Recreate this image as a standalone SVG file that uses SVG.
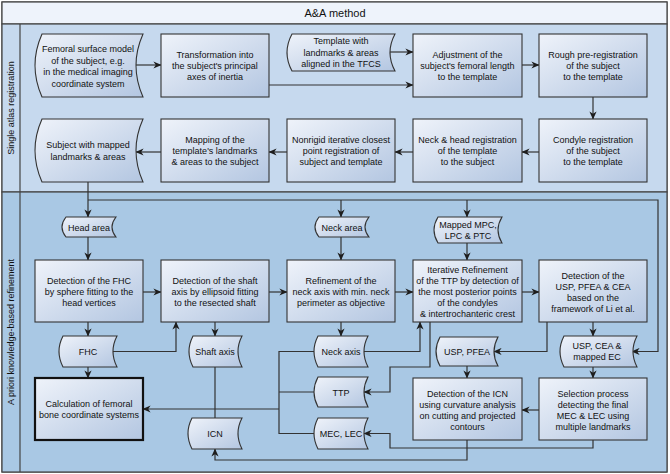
<svg xmlns="http://www.w3.org/2000/svg" width="670" height="474" viewBox="0 0 670 474">
<defs>
<linearGradient id="g" x1="0" y1="0" x2="1" y2="1">
<stop offset="0" stop-color="#eff3fa"/>
<stop offset="1" stop-color="#b3c6e1"/>
</linearGradient>
<marker id="arr" viewBox="0 0 10 10" refX="9.5" refY="5" markerWidth="8" markerHeight="8" markerUnits="userSpaceOnUse" orient="auto">
<path d="M0,0.5 L10,5 L0,9.5 L3,5 Z" fill="#1e1e1e"/>
</marker>
<style>
.n{fill:url(#g);stroke:#333;stroke-width:1.1}
.b{stroke-width:2.2;stroke:#111}
.t{font-family:"Liberation Sans",Arial,sans-serif;font-size:9px;fill:#111;text-anchor:middle}
.c{fill:none;stroke:#333;stroke-width:1.2}
.a{marker-end:url(#arr)}
.lane{font-family:"Liberation Sans",Arial,sans-serif;font-size:9px;fill:#111;text-anchor:middle}
</style>
</defs>
<g id="frame">
<rect x="2" y="2" width="665" height="470" fill="#c6d9ee" stroke="#444" stroke-width="1.2"/>
<rect x="2" y="2" width="665" height="22" fill="#eef3fb" stroke="#444" stroke-width="1.2"/>
<text x="335" y="17" style="font-family:'Liberation Sans',Arial,sans-serif;font-size:11px;fill:#111;text-anchor:middle">A&amp;A method</text>
<rect x="2" y="24" width="665" height="168" fill="#c6d9ee" stroke="#444" stroke-width="1.2"/>
<rect x="2" y="192" width="665" height="280" fill="#a9c8e4" stroke="#444" stroke-width="1.2"/>
<line x1="20" y1="24" x2="20" y2="472" stroke="#444" stroke-width="1.2"/>
<text class="lane" transform="translate(14,108) rotate(-90)">Single atlas registration</text>
<text class="lane" transform="translate(14,332) rotate(-90)">A priori knowledge-based refinement</text>
</g>
<g id="connectors">
<path class="c a" d="M136,65 H161"/>
<path class="c a" d="M269,85 H413"/>
<path class="c a" d="M390,52 H413"/>
<path class="c a" d="M522,65 H539"/>
<path class="c a" d="M593,97 V119"/>
<path class="c a" d="M539,152 H522"/>
<path class="c a" d="M413,152 H395"/>
<path class="c a" d="M287,152 H269"/>
<path class="c a" d="M161,152 H136"/>
<path class="c a" d="M88,182 V217"/>
<path class="c a" d="M88,200 H658 V351.5 H632"/>
<path class="c a" d="M341,200 V217"/>
<path class="c a" d="M467,200 V217"/>
<path class="c a" d="M88,237 V260"/>
<path class="c a" d="M341,237 V260"/>
<path class="c a" d="M467,243 V260"/>
<path class="c a" d="M143,292 H161"/>
<path class="c a" d="M269,292 H287"/>
<path class="c a" d="M395,292 H413"/>
<path class="c a" d="M522,292 H539"/>
<path class="c a" d="M88,322 V336"/>
<path class="c a" d="M88,367 V378"/>
<path class="c a" d="M113,351.5 H176 V322"/>
<path class="c a" d="M215,322 V336"/>
<path class="c" d="M215,367 V418"/>
<path class="c" d="M314,351.5 H279 V433.5 H314 M279,392 H314"/>
<path class="c a" d="M279,409 H143"/>
<path class="c a" d="M341,322 V336"/>
<path class="c a" d="M364,351.5 H420 V322"/>
<path class="c a" d="M430,322 V367 H390 V392 H364"/>
<path class="c a" d="M547,322 V351.5 H494"/>
<path class="c a" d="M593,322 V336"/>
<path class="c a" d="M467,366 V378"/>
<path class="c a" d="M593,367 V378"/>
<path class="c a" d="M539,410 H522"/>
<path class="c a" d="M593,440 V448 H390 V433.5 H364"/>
<path class="c a" d="M467,440 V460 H215 V449"/>
</g>
<g id="n1"><path class="n" d="M42,34 H143 Q129,65.5 143,97 H42 Q28,65.5 42,34 Z"/>
<text class="t" x="88" y="52">Femoral surface model</text><text class="t" x="88" y="63.5">of the subject, e.g.</text><text class="t" x="88" y="75">in the medical imaging</text><text class="t" x="88" y="86.5">coordinate system</text></g>
<g id="n2"><rect class="n" x="161" y="34" width="108" height="63"/>
<text class="t" x="215" y="58">Transformation into</text><text class="t" x="215" y="69">the subject's principal</text><text class="t" x="215" y="80">axes of inertia</text></g>
<g id="n3"><path class="n" d="M292,34 H395 Q385,52.5 395,71 H292 Q282,52.5 292,34 Z"/>
<text class="t" x="341" y="44">Template with</text><text class="t" x="341" y="55.5">landmarks &amp; areas</text><text class="t" x="341" y="67">aligned in the TFCS</text></g>
<g id="n4"><rect class="n" x="413" y="34" width="109" height="63"/>
<text class="t" x="467.5" y="58">Adjustment of the</text><text class="t" x="467.5" y="69">subject's femoral length</text><text class="t" x="467.5" y="80">to the template</text></g>
<g id="n5"><rect class="n" x="539" y="34" width="108" height="63"/>
<text class="t" x="593" y="58">Rough pre-registration</text><text class="t" x="593" y="69">of the subject</text><text class="t" x="593" y="80">to the template</text></g>
<g id="n6"><path class="n" d="M42,119 H143 Q129,150.5 143,182 H42 Q28,150.5 42,119 Z"/>
<text class="t" x="88" y="148">Subject with mapped</text><text class="t" x="88" y="159.5">landmarks &amp; areas</text></g>
<g id="n7"><rect class="n" x="161" y="119" width="108" height="63"/>
<text class="t" x="215" y="143">Mapping of the</text><text class="t" x="215" y="154">template's landmarks</text><text class="t" x="215" y="165">&amp; areas to the subject</text></g>
<g id="n8"><rect class="n" x="287" y="119" width="108" height="63"/>
<text class="t" x="341" y="143">Nonrigid iterative closest</text><text class="t" x="341" y="154">point registration of</text><text class="t" x="341" y="165">subject and template</text></g>
<g id="n9"><rect class="n" x="413" y="119" width="109" height="63"/>
<text class="t" x="467.5" y="143">Neck &amp; head registration</text><text class="t" x="467.5" y="154">of the template</text><text class="t" x="467.5" y="165">to the subject</text></g>
<g id="n10"><rect class="n" x="539" y="119" width="108" height="63"/>
<text class="t" x="593" y="143">Condyle registration</text><text class="t" x="593" y="154">of the subject</text><text class="t" x="593" y="165">to the template</text></g>
<g id="headarea"><path class="n" d="M66,217 H116 Q108,227 116,237 H66 Q58,227 66,217 Z"/>
<text class="t" x="89" y="230.5">Head area</text></g>
<g id="neckarea"><path class="n" d="M319,217 H369 Q361,227 369,237 H319 Q311,227 319,217 Z"/>
<text class="t" x="342" y="230.5">Neck area</text></g>
<g id="mapped"><path class="n" d="M438,217 H502 Q494,230 502,243 H438 Q430,230 438,217 Z"/>
<text class="t" x="468" y="228">Mapped MPC,</text><text class="t" x="468" y="239">LPC &amp; PTC</text></g>
<g id="fhcdet"><rect class="n" x="35" y="260" width="108" height="62"/>
<text class="t" x="89" y="284">Detection of the FHC</text><text class="t" x="89" y="295">by sphere fitting to the</text><text class="t" x="89" y="306">head vertices</text></g>
<g id="shaftdet"><rect class="n" x="161" y="260" width="108" height="62"/>
<text class="t" x="215" y="284">Detection of the shaft</text><text class="t" x="215" y="295">axis by ellipsoid fitting</text><text class="t" x="215" y="306">to the resected shaft</text></g>
<g id="neckref"><rect class="n" x="287" y="260" width="108" height="62"/>
<text class="t" x="341" y="284">Refinement of the</text><text class="t" x="341" y="295">neck axis with min. neck</text><text class="t" x="341" y="306">perimeter as objective</text></g>
<g id="ttpref"><rect class="n" x="413" y="260" width="109" height="62"/>
<text class="t" x="467.5" y="272.5">Iterative Refinement</text><text class="t" x="467.5" y="284">of the TTP by detection of</text><text class="t" x="467.5" y="295">the most posterior points</text><text class="t" x="467.5" y="306">of the condyles</text><text class="t" x="467.5" y="317">&amp; intertrochanteric crest</text></g>
<g id="uspdet"><rect class="n" x="539" y="260" width="108" height="62"/>
<text class="t" x="593" y="278.5">Detection of the</text><text class="t" x="593" y="289.5">USP, PFEA &amp; CEA</text><text class="t" x="593" y="300.5">based on the</text><text class="t" x="593" y="311.5">framework of Li et al.</text></g>
<g id="fhc"><path class="n" d="M63,336 H117 Q109,351.5 117,367 H63 Q55,351.5 63,336 Z"/>
<text class="t" x="88" y="355">FHC</text></g>
<g id="shaft"><path class="n" d="M193,336 H242 Q234,351.5 242,367 H193 Q185,351.5 193,336 Z"/>
<text class="t" x="215" y="355">Shaft axis</text></g>
<g id="neckaxis"><path class="n" d="M318,336 H368 Q360,351.5 368,367 H318 Q310,351.5 318,336 Z"/>
<text class="t" x="341" y="355">Neck axis</text></g>
<g id="usppfea"><path class="n" d="M440,337 H498 Q490,351.5 498,366 H440 Q432,351.5 440,337 Z"/>
<text class="t" x="467" y="355">USP, PFEA</text></g>
<g id="uspcea"><path class="n" d="M564,336 H637 Q629,351.5 637,367 H564 Q556,351.5 564,336 Z"/>
<text class="t" x="597" y="349">USP, CEA &amp;</text><text class="t" x="597" y="360">mapped EC</text></g>
<g id="calc"><rect class="n b" x="35" y="378" width="108" height="62"/>
<text class="t" x="89" y="407">Calculation of femoral</text><text class="t" x="89" y="418">bone coordinate systems</text></g>
<g id="ttp"><path class="n" d="M318,377 H368 Q360,392 368,407 H318 Q310,392 318,377 Z"/>
<text class="t" x="341" y="395.5">TTP</text></g>
<g id="icndet"><rect class="n" x="413" y="378" width="109" height="62"/>
<text class="t" x="467.5" y="396.5">Detection of the ICN</text><text class="t" x="467.5" y="407.5">using curvature analysis</text><text class="t" x="467.5" y="418.5">on cutting and projected</text><text class="t" x="467.5" y="429.5">contours</text></g>
<g id="select"><rect class="n" x="539" y="378" width="108" height="62"/>
<text class="t" x="593" y="396.5">Selection process</text><text class="t" x="593" y="407.5">detecting the final</text><text class="t" x="593" y="418.5">MEC &amp; LEC using</text><text class="t" x="593" y="429.5">multiple landmarks</text></g>
<g id="icn"><path class="n" d="M192,418 H242 Q234,433.5 242,449 H192 Q184,433.5 192,418 Z"/>
<text class="t" x="215" y="437">ICN</text></g>
<g id="meclec"><path class="n" d="M318,418 H368 Q360,433.5 368,449 H318 Q310,433.5 318,418 Z"/>
<text class="t" x="341" y="437">MEC, LEC</text></g>
</svg>
